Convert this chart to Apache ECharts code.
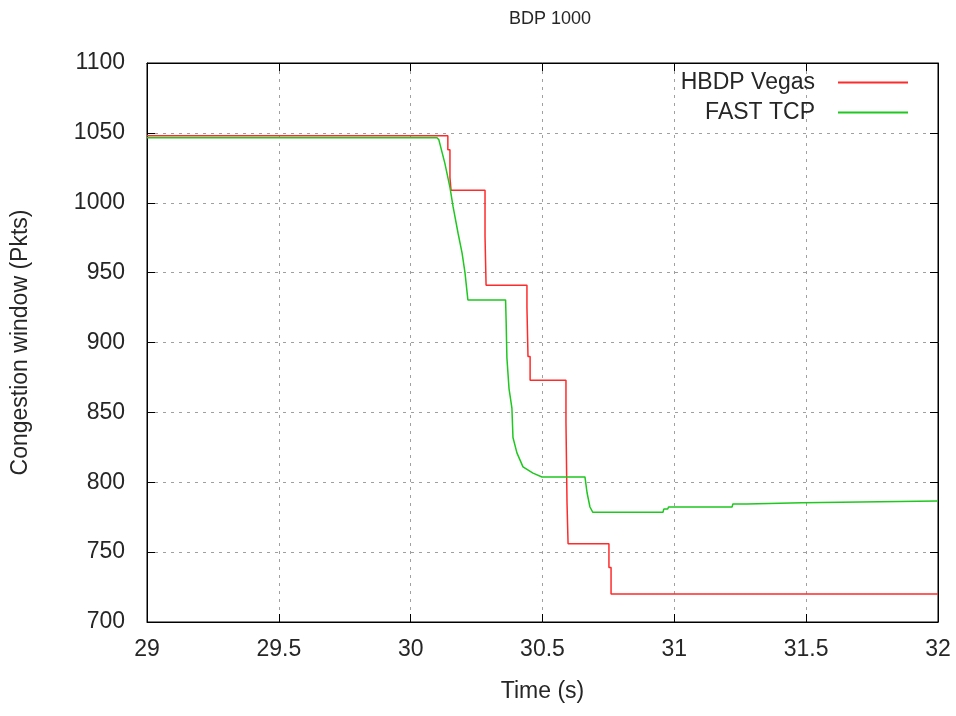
<!DOCTYPE html>
<html><head><meta charset="utf-8">
<script src="https://cdn.jsdelivr.net/npm/echarts@6/dist/echarts.min.js"></script>
<style>html,body{margin:0;padding:0;background:#fff}#c{width:956px;height:716px}</style>
</head><body><div id="c"></div>
<script>
const title = 'BDP 1000';
const xTicks = [29, 29.5, 30, 30.5, 31, 31.5, 32];
const yTicks = [700, 750, 800, 850, 900, 950, 1000, 1050, 1100];
// HBDP Vegas: change times and new values (step: value holds until next time)
const vegasT = [29, 30.141, 30.149, 30.153, 30.282, 30.286, 30.441, 30.445, 30.453, 30.589, 30.593, 30.597, 30.752, 30.760, 32];
const vegasV = [1048, 1038, 1018, 1009, 976, 941, 925, 890, 873, 843, 785, 756, 739, 720, 720];
// FAST TCP
const fastT = [29, 30.10, 30.107, 30.130, 30.149, 30.161, 30.180, 30.195, 30.206, 30.217, 30.360, 30.362, 30.365, 30.373, 30.384, 30.388, 30.403, 30.426, 30.464, 30.498, 30.661, 30.665, 30.669, 30.680, 30.691, 30.957, 30.960, 30.975, 30.978, 31.219, 31.222, 31.275, 31.278, 31.484, 31.487, 32];
const fastV = [1046.5, 1046.5, 1045, 1028, 1011, 997, 978, 964, 950, 930.5, 930.5, 916, 889, 867, 853, 832, 821, 811, 806.5, 803.8, 803.8, 803, 792.5, 782.3, 778.5, 778.5, 780.8, 780.8, 782.3, 782.3, 784.4, 784.4, 785.4, 785.4, 786.6, 786.6];

const font = 'Liberation Sans, Arial, sans-serif';
const txt = '#262626';
const fs = 23;
const chart = echarts.init(document.getElementById('c'), null, {renderer: 'canvas'});
const zip = (a, b) => a.map((t, i) => [t, b[i]]);
const gridLine = {show: true, lineStyle: {color: '#a0a0a0', type: [3, 5], width: 1}};
chart.setOption({
  animation: false,
  backgroundColor: '#fff',
  title: {text: title, left: 545, textAlign: 'center', top: 5,
    textStyle: {fontFamily: font, fontSize: 18, fontWeight: 'normal', color: txt}},
  grid: {left: 147, right: 18, top: 63, bottom: 94, show: true, borderColor: '#000', borderWidth: 1},
  legend: {
    orient: 'vertical', right: 48, top: 71, align: 'right', itemGap: 7, padding: 0,
    itemWidth: 70, itemHeight: 2, icon: 'rect',
    textStyle: {fontFamily: font, fontSize: fs, color: txt, lineHeight: 23, padding: [0, 18, 0, 0]},
    data: ['HBDP Vegas', 'FAST TCP']
  },
  xAxis: [{
    type: 'value', min: 29, max: 32, interval: 0.5,
    name: 'Time (s)', nameLocation: 'middle', nameGap: 58,
    nameTextStyle: {fontFamily: font, fontSize: fs, color: txt},
    axisLine: {show: true, lineStyle: {color: '#000'}},
    axisTick: {show: true, inside: true, length: 8, lineStyle: {color: '#000'}},
    axisLabel: {fontFamily: font, fontSize: fs, color: txt, margin: 16,
      formatter: v => xTicks.includes(v) ? String(v) : ''},
    splitLine: gridLine
  }, {
    type: 'value', position: 'top', min: 29, max: 32, interval: 0.5,
    axisLine: {show: true, lineStyle: {color: '#000'}},
    axisTick: {show: true, inside: true, length: 8, lineStyle: {color: '#000'}},
    axisLabel: {show: false}, splitLine: {show: false}
  }],
  yAxis: [{
    type: 'value', min: 700, max: 1100, interval: 50,
    name: 'Congestion window (Pkts)', nameLocation: 'middle', nameGap: 115,
    nameTextStyle: {fontFamily: font, fontSize: fs, color: txt},
    axisLine: {show: true, lineStyle: {color: '#000'}},
    axisTick: {show: true, inside: true, length: 8, lineStyle: {color: '#000'}},
    axisLabel: {fontFamily: font, fontSize: fs, color: txt, margin: 22,
      formatter: v => yTicks.includes(v) ? String(v) : ''},
    splitLine: gridLine
  }, {
    type: 'value', position: 'right', min: 700, max: 1100, interval: 50,
    axisLine: {show: true, lineStyle: {color: '#000'}},
    axisTick: {show: true, inside: true, length: 8, lineStyle: {color: '#000'}},
    axisLabel: {show: false}, splitLine: {show: false}
  }],
  series: [{
    name: 'HBDP Vegas', type: 'line', step: 'end', showSymbol: false,
    data: zip(vegasT, vegasV), color: '#ff2a2a',
    lineStyle: {width: 1.5, color: '#ff2a2a'}
  }, {
    name: 'FAST TCP', type: 'line', showSymbol: false,
    data: zip(fastT, fastV), color: '#1ec81e',
    lineStyle: {width: 1.5, color: '#1ec81e'}
  }]
});
</script></body></html>
